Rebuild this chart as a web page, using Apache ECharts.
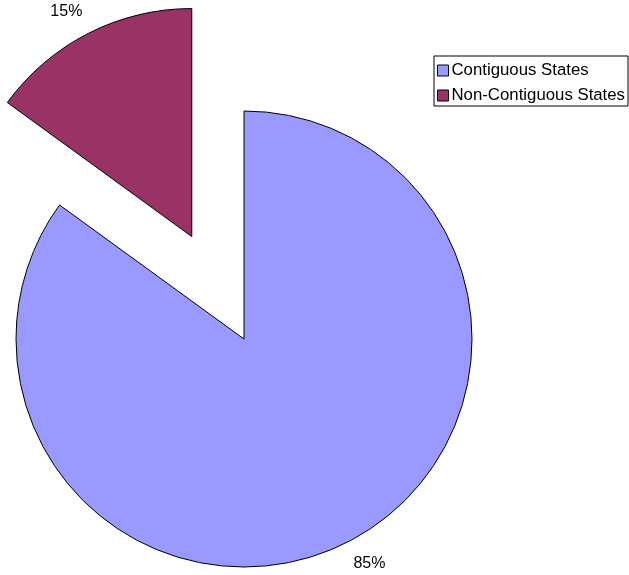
<!DOCTYPE html>
<html>
<head>
<meta charset="utf-8">
<script src="https://cdn.jsdelivr.net/npm/echarts@6/dist/echarts.min.js"></script>
<style>
  html, body { margin: 0; padding: 0; background: #fff; }
  #chart { width: 629px; height: 575px; }
</style>
</head>
<body>
<div id="chart"></div>
<script>
  var categories = ['Contiguous States', 'Non-Contiguous States'];
  var values = [85, 15];
  var colors = ['#9999FF', '#993366'];
  var exploded = [false, true];

  var myChart = echarts.init(document.getElementById('chart'));
  myChart.setOption({
    animation: false,
    legend: {
      orient: 'vertical',
      left: 434,
      top: 56,
      padding: [6, 3, 2, 3],
      itemGap: 8,
      icon: 'rect',
      itemWidth: 11,
      itemHeight: 11,
      itemStyle: { borderColor: '#000', borderWidth: 1 },
      borderColor: '#000',
      borderWidth: 1,
      textStyle: { fontFamily: 'Liberation Sans, Arial', fontSize: 16.8, color: '#000', padding: [0, 0, 0, -2] },
      data: categories
    },
    series: [
      {
        type: 'pie',
        center: [244, 339],
        radius: 228,
        startAngle: 90,
        clockwise: true,
        selectedMode: 'single',
        selectedOffset: 115,
        itemStyle: { borderColor: '#000', borderWidth: 1 },
        label: {
          show: true,
          position: 'outside',
          formatter: '{c}%',
          fontFamily: 'Liberation Sans, Arial',
          fontSize: 16,
          color: '#000'
        },
        labelLine: { show: false, length: 24, length2: -10 },
        emphasis: { disabled: true },
        data: categories.map(function (c, i) {
          return {
            name: c,
            value: values[i],
            selected: exploded[i],
            itemStyle: { color: colors[i] }
          };
        })
      }
    ]
  });
</script>
</body>
</html>
